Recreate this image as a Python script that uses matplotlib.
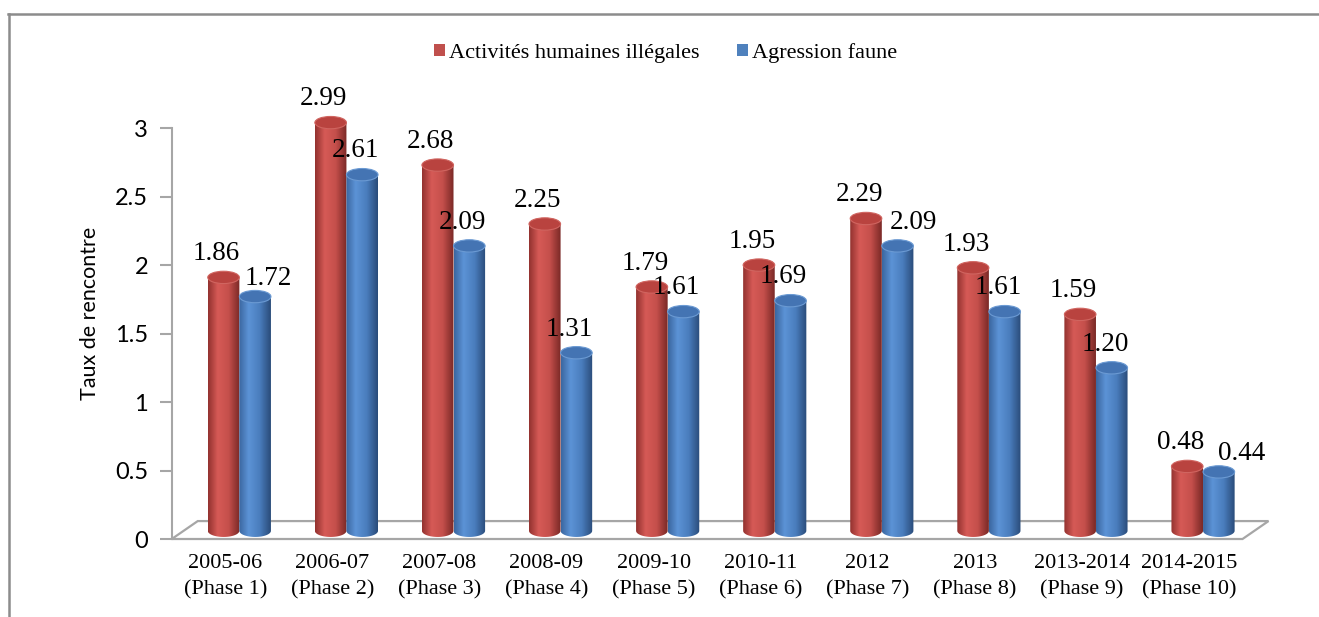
import numpy as np
import matplotlib.pyplot as plt
from matplotlib.patches import Ellipse, PathPatch, Polygon, Patch
from matplotlib.path import Path
from matplotlib.colors import LinearSegmentedColormap
from matplotlib.lines import Line2D

periods = ['2005-06\n(Phase 1)', '2006-07\n(Phase 2)', '2007-08\n(Phase 3)',
           '2008-09\n(Phase 4)', '2009-10\n(Phase 5)', '2010-11\n(Phase 6)',
           '2012\n(Phase 7)', '2013\n(Phase 8)', '2013-2014\n(Phase 9)',
           '2014-2015\n(Phase 10)']
illegal = [1.86, 2.99, 2.68, 2.25, 1.79, 1.95, 2.29, 1.93, 1.59, 0.48]
faune = [1.72, 2.61, 2.09, 1.31, 1.61, 1.69, 2.09, 1.61, 1.20, 0.44]
series_names = ['Activités humaines illégales', 'Agression faune']

# label nudges (points) where the blue label is moved clear of the red one
blue_label_dx = [9.5, -5, -5, -5, -5, -5, 11.5, -5, -5, 16.5]
blue_label_dy = [18, 22, 22, 22, 22, 22, 22, 22, 22, 18.5]

red = '#C0504D'
blue = '#4F81BD'
red_cmap = LinearSegmentedColormap.from_list(
    'r', [(0, '#93322f'), (0.3, '#d65a56'), (0.65, '#c54f4b'), (1, '#7a2926')])
blue_cmap = LinearSegmentedColormap.from_list(
    'b', [(0, '#3b67a0'), (0.3, '#5c93d6'), (0.65, '#4a7dbd'), (1, '#2a4c7a')])

serif = 'Liberation Serif'
sans = 'Lato'

fig = plt.figure(figsize=(13.19, 6.17), dpi=100)
ax = fig.add_axes([0.1302, 0.1264, 0.8118, 0.7326])

# chart frame
fig.add_artist(Line2D([8.5 / 1319, 8.5 / 1319], [0, 1 - 14 / 617],
                      color='#8c8c8c', lw=1.8, transform=fig.transFigure))
fig.add_artist(Line2D([8 / 1319, 1], [1 - 14 / 617, 1 - 14 / 617],
                      color='#8c8c8c', lw=1.8, transform=fig.transFigure))

depth_x, depth_y = 0.243, 0.131
bar_w = 0.295
base = 0.06
eh = 0.045
grad = np.linspace(0, 1, 64)


def cylinder(xc, value, cmap, top_face, top_edge, z):
    x0, x1 = xc - bar_w / 2, xc + bar_w / 2
    top = value + 0.05
    th = np.linspace(np.pi, 2 * np.pi, 40)
    verts = [(x0, top)] + list(zip(xc + bar_w / 2 * np.cos(th), base + eh * np.sin(th))) + [(x1, top), (x0, top)]
    patch = PathPatch(Path(verts), facecolor='none', edgecolor='none', zorder=z)
    ax.add_patch(patch)
    im = ax.imshow(cmap(grad)[None, :, :], extent=(x0, x1, base - eh, top),
                   aspect='auto', zorder=z, interpolation='bilinear')
    im.set_clip_path(patch)
    ax.add_patch(Ellipse((xc, top), bar_w, 2 * eh, facecolor=top_face,
                         edgecolor=top_edge, lw=0.8, zorder=z + 0.1))


floor = Polygon([(-0.5, 0), (9.5, 0), (9.5 + depth_x, depth_y), (-0.5 + depth_x, depth_y)],
                closed=True, facecolor='white', edgecolor='#a6a6a6', lw=1.6, zorder=1,
                clip_on=False)
ax.add_patch(floor)

x = np.arange(len(periods))
shift = depth_x / 2 + 0.01
for i in range(len(periods)):
    xr = x[i] + shift - bar_w / 2
    xb = x[i] + shift + bar_w / 2
    cylinder(xr, illegal[i], red_cmap, '#b9433f', '#d06560', 2 + i)
    cylinder(xb, faune[i], blue_cmap, '#4474b3', '#6b9ad3', 2.5 + i)
    ax.annotate(f'{illegal[i]:.2f}', (xr, illegal[i]), xytext=(-5, 22),
                textcoords='offset points', ha='center', va='center',
                fontsize=19.5, family=serif, zorder=20)
    ax.annotate(f'{faune[i]:.2f}', (xb, faune[i]), xytext=(blue_label_dx[i], blue_label_dy[i]),
                textcoords='offset points', ha='center', va='center',
                fontsize=19.5, family=serif, zorder=20)

ax.set_xlim(-0.5, 9.5)
ax.set_ylim(0, 3.3)
ax.set_xticks(x)
ax.set_xticklabels(periods, fontsize=16, family=serif, linespacing=1.5)
ax.tick_params(axis='x', length=0, pad=11)
ax.set_yticks([0, 0.5, 1, 1.5, 2, 2.5, 3])
ax.set_yticklabels(['0', '0.5', '1', '1.5', '2', '2.5', '3'], fontsize=17, family=sans)
ax.tick_params(axis='y', direction='out', length=9, width=1.5, color='#a6a6a6', pad=8)
ax.set_ylabel('Taux de rencontre', fontsize=15.5, family=sans, labelpad=11)
for s in ['top', 'right', 'bottom']:
    ax.spines[s].set_visible(False)
ax.spines['left'].set_color('#a6a6a6')
ax.spines['left'].set_linewidth(1.5)
ax.spines['left'].set_bounds(0, 3)
ax.patch.set_visible(False)

handles = [Patch(facecolor=red, edgecolor='none'), Patch(facecolor=blue, edgecolor='none')]
fig.legend(handles, series_names, loc='center', bbox_to_anchor=(665.5 / 1319, 1 - 53 / 617),
           ncol=2, frameon=False, prop={'family': serif, 'size': 16},
           handlelength=0.5, handleheight=0.5, handletextpad=0.15, columnspacing=1.7)

fig.savefig('out.png', dpi=100)
